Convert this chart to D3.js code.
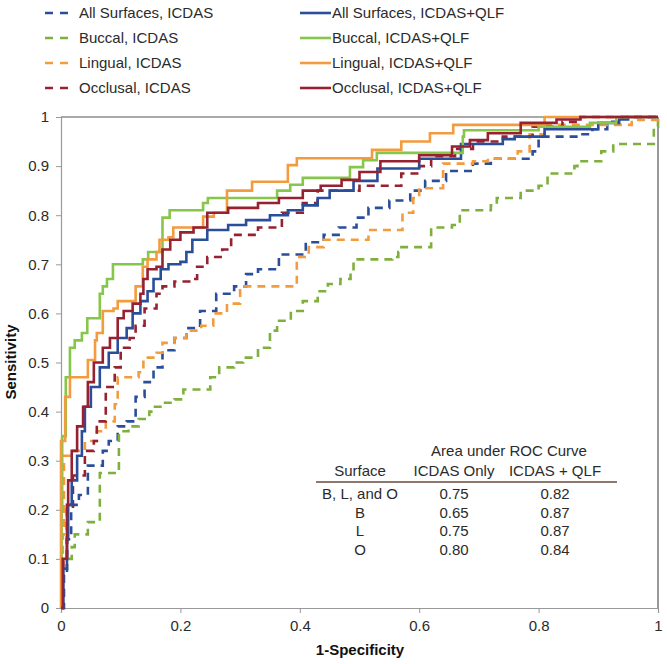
<!DOCTYPE html>
<html><head><meta charset="utf-8">
<script src="https://cdn.jsdelivr.net/npm/d3@7"></script>
<style>body{margin:0;background:#fff;}svg{display:block;font-family:"Liberation Sans",Arial,sans-serif;}</style>
</head><body>
<script>
// ---- data (step ROC points: [1-specificity, sensitivity]) ----
const allIcdasX = [0,0.005,0.01,0.017,0.03,0.045,0.07,0.08,0.095,0.11,0.125,0.14,0.155,0.17,0.19,0.21,0.233,0.26,0.29,0.31,0.33,0.365,0.41,0.44,0.465,0.495,0.515,0.55,0.585,0.61,0.645,0.69,0.72,0.79,0.80,0.87,0.89,0.915,0.94,1];
const allIcdasY = [0,0.07,0.14,0.21,0.23,0.29,0.32,0.34,0.37,0.38,0.43,0.46,0.49,0.525,0.55,0.57,0.605,0.64,0.655,0.68,0.69,0.72,0.745,0.76,0.775,0.795,0.815,0.83,0.85,0.87,0.89,0.905,0.915,0.93,0.96,0.965,0.975,0.99,1,1];

const allQlfX = [0,0.004,0.01,0.012,0.018,0.027,0.035,0.04,0.05,0.065,0.08,0.095,0.11,0.12,0.133,0.145,0.155,0.167,0.18,0.2,0.21,0.22,0.245,0.28,0.31,0.35,0.38,0.405,0.43,0.45,0.49,0.53,0.6,0.67,0.74,0.76,0.81,0.9,0.935,0.95,1];
const allQlfY = [0,0.08,0.14,0.21,0.26,0.31,0.36,0.41,0.45,0.49,0.52,0.55,0.57,0.60,0.625,0.645,0.67,0.69,0.70,0.705,0.725,0.75,0.77,0.78,0.79,0.80,0.81,0.82,0.835,0.85,0.87,0.895,0.915,0.945,0.955,0.96,0.975,0.988,0.995,1,1];

const buccalIcdasX = [0,0.003,0.01,0.018,0.023,0.045,0.065,0.097,0.113,0.13,0.148,0.155,0.17,0.19,0.205,0.25,0.265,0.29,0.305,0.33,0.35,0.362,0.385,0.405,0.43,0.447,0.468,0.485,0.49,0.555,0.565,0.567,0.62,0.655,0.668,0.72,0.73,0.77,0.80,0.815,0.86,0.865,0.905,0.925,0.993,1];
const buccalIcdasY = [0,0.08,0.10,0.124,0.15,0.175,0.275,0.36,0.37,0.385,0.40,0.41,0.418,0.425,0.445,0.47,0.49,0.50,0.51,0.53,0.565,0.585,0.605,0.625,0.645,0.66,0.67,0.69,0.71,0.715,0.725,0.735,0.775,0.78,0.81,0.82,0.835,0.85,0.86,0.885,0.90,0.91,0.93,0.945,0.98,1];

const buccalQlfX = [0,0.001,0.002,0.008,0.015,0.023,0.035,0.044,0.065,0.07,0.077,0.087,0.137,0.146,0.17,0.182,0.238,0.246,0.362,0.384,0.405,0.484,0.506,0.529,0.673,0.675,0.8,0.886,0.93,1];
const buccalQlfY = [0,0.2,0.35,0.47,0.53,0.545,0.56,0.59,0.64,0.655,0.67,0.70,0.71,0.725,0.795,0.81,0.825,0.835,0.85,0.862,0.876,0.898,0.912,0.927,0.96,0.973,0.98,0.988,1,1];

const lingualIcdasX = [0,0.003,0.005,0.02,0.04,0.06,0.075,0.09,0.095,0.13,0.138,0.16,0.17,0.19,0.21,0.235,0.255,0.278,0.3,0.395,0.415,0.44,0.515,0.572,0.59,0.6,0.64,0.69,0.715,0.765,0.785,0.81,0.956,1];
const lingualIcdasY = [0,0.15,0.31,0.32,0.34,0.36,0.38,0.415,0.47,0.48,0.51,0.52,0.54,0.55,0.565,0.575,0.60,0.62,0.655,0.715,0.735,0.75,0.77,0.805,0.835,0.855,0.905,0.91,0.915,0.93,0.965,0.984,0.994,1];

const lingualQlfX = [0,0,0.007,0.015,0.045,0.057,0.06,0.07,0.088,0.095,0.125,0.137,0.145,0.16,0.165,0.18,0.188,0.238,0.256,0.278,0.32,0.38,0.395,0.521,0.57,0.618,0.657,0.81,1];
const lingualQlfY = [0,0.34,0.43,0.47,0.505,0.545,0.56,0.605,0.61,0.625,0.655,0.695,0.71,0.725,0.75,0.755,0.775,0.797,0.805,0.85,0.868,0.902,0.916,0.933,0.95,0.967,0.984,1,1];

const occlusalIcdasX = [0,0.004,0.01,0.02,0.04,0.055,0.06,0.075,0.09,0.1,0.115,0.125,0.14,0.16,0.17,0.19,0.22,0.228,0.245,0.27,0.285,0.33,0.37,0.405,0.43,0.5,0.57,0.60,0.62,0.66,0.69,0.74,0.79,0.84,0.87,1];
const occlusalIcdasY = [0,0.1,0.2,0.27,0.32,0.34,0.38,0.45,0.49,0.53,0.55,0.575,0.61,0.64,0.655,0.665,0.67,0.695,0.715,0.73,0.76,0.775,0.805,0.825,0.85,0.86,0.885,0.9,0.92,0.935,0.95,0.96,0.98,0.99,1,1];

const occlusalQlfX = [0,0.003,0.01,0.012,0.018,0.027,0.037,0.045,0.055,0.07,0.082,0.095,0.105,0.12,0.133,0.138,0.145,0.16,0.17,0.183,0.2,0.222,0.245,0.28,0.33,0.365,0.405,0.435,0.47,0.5,0.535,0.6,0.655,0.685,0.715,0.77,0.83,0.87,1];
const occlusalQlfY = [0,0.1,0.21,0.26,0.32,0.37,0.41,0.46,0.5,0.53,0.55,0.59,0.605,0.62,0.64,0.67,0.69,0.695,0.73,0.75,0.765,0.775,0.805,0.815,0.825,0.835,0.85,0.86,0.872,0.888,0.91,0.922,0.94,0.953,0.967,0.988,0.995,1,1];

const seriesNames = ["All Surfaces, ICDAS","All Surfaces, ICDAS+QLF","Buccal, ICDAS","Buccal, ICDAS+QLF","Lingual, ICDAS","Lingual, ICDAS+QLF","Occlusal, ICDAS","Occlusal, ICDAS+QLF"];
const seriesX = [allIcdasX, allQlfX, buccalIcdasX, buccalQlfX, lingualIcdasX, lingualQlfX, occlusalIcdasX, occlusalQlfX];
const seriesY = [allIcdasY, allQlfY, buccalIcdasY, buccalQlfY, lingualIcdasY, lingualQlfY, occlusalIcdasY, occlusalQlfY];
const seriesColors = ["#2B4E9A","#2B4E9A","#7FB03E","#86C64A","#F39B3F","#F39B3F","#962131","#962131"];
const seriesDashed = [true,false,true,false,true,false,true,false];

const xTicks = [0,0.2,0.4,0.6,0.8,1];
const yTicks = [0,0.1,0.2,0.3,0.4,0.5,0.6,0.7,0.8,0.9,1];

const tableTitle = "Area under ROC Curve";
const tableHeader = ["Surface","ICDAS Only","ICDAS + QLF"];
const tableSurface = ["B, L, and O","B","L","O"];
const tableIcdas = ["0.75","0.65","0.75","0.80"];
const tableQlf = ["0.82","0.87","0.87","0.84"];

// ---- drawing ----
const W = 667, H = 664;
const svg = d3.select("body").append("svg").attr("width", W).attr("height", H);
const x = d3.scaleLinear().domain([0,1]).range([61,658]);
const y = d3.scaleLinear().domain([0,1]).range([608,117]);
const txt = "#2b2b2b";

svg.append("defs").append("clipPath").attr("id","clip")
  .append("rect").attr("x",58).attr("y",114).attr("width",603).attr("height",497);

// frame (top and right)
svg.append("line").attr("x1",x(0)).attr("x2",x(1)).attr("y1",y(1)).attr("y2",y(1)).attr("stroke","#555").attr("stroke-width",1.2);
svg.append("line").attr("x1",x(1)).attr("x2",x(1)).attr("y1",y(1)).attr("y2",y(0)).attr("stroke","#555").attr("stroke-width",1.2);

// axes
const yAxis = svg.append("g").attr("transform",`translate(${x(0)},0)`)
  .call(d3.axisLeft(y).tickValues(yTicks).tickSize(5).tickPadding(7).tickFormat(d => d3.format("")(+d.toFixed(1))));
const xAxis = svg.append("g").attr("transform",`translate(0,${y(0)})`)
  .call(d3.axisBottom(x).tickValues(xTicks).tickSize(5).tickPadding(7).tickFormat(d => d3.format("")(+d.toFixed(1))));
[xAxis,yAxis].forEach(a => {
  a.select(".domain").attr("stroke","#999").attr("stroke-width",1.2);
  a.selectAll(".tick line").attr("stroke","#999");
  a.selectAll(".tick text").attr("fill",txt).style("font-size","15px").style("font-family","'Liberation Sans',Arial,sans-serif");
});

svg.append("text").attr("x",360).attr("y",655).attr("text-anchor","middle")
  .style("font-size","15px").style("font-weight","bold").attr("fill","#111").text("1-Specificity");
svg.append("text").attr("transform","translate(16,362) rotate(-90)").attr("text-anchor","middle")
  .style("font-size","15px").style("font-weight","bold").attr("fill","#111").text("Sensitivity");

// curves
const line = d3.line().x(d => x(d[0])).y(d => y(d[1])).curve(d3.curveStepAfter);
const order = [0,2,4,6,1,3,5,7];
const plot = svg.append("g").attr("clip-path","url(#clip)");
order.forEach(i => {
  const pts = seriesX[i].map((v,k) => [v, seriesY[i][k]]);
  plot.append("path").datum(pts).attr("d", line).attr("fill","none")
    .attr("stroke", seriesColors[i]).attr("stroke-width", 2.6)
    .attr("stroke-dasharray", seriesDashed[i] ? "8,6" : null);
});

// legend
const legRows = [13,38,63,88];
seriesNames.forEach((name,i) => {
  const col = i % 2, row = Math.floor(i/2);
  const ly = legRows[row];
  const g = svg.append("g");
  if (seriesDashed[i]) {
    g.append("line").attr("x1",45).attr("x2",68).attr("y1",ly).attr("y2",ly)
      .attr("stroke",seriesColors[i]).attr("stroke-width",2.6).attr("stroke-dasharray","8,7");
    g.append("text").attr("x",79).attr("y",ly+5).style("font-size","15px").attr("fill",txt).text(name);
  } else {
    g.append("line").attr("x1",300).attr("x2",331).attr("y1",ly).attr("y2",ly)
      .attr("stroke",seriesColors[i]).attr("stroke-width",2.6);
    g.append("text").attr("x",332).attr("y",ly+5).style("font-size","15px").attr("fill",txt).text(name);
  }
});

// table
const tcol = [360, 454, 555];
const tg = svg.append("g").style("font-size","15px").attr("fill",txt);
tg.append("text").attr("x",509).attr("y",456).attr("text-anchor","middle").text(tableTitle);
tableHeader.forEach((h,i) => tg.append("text").attr("x",tcol[i]).attr("y",476).attr("text-anchor","middle").text(h));
svg.append("line").attr("x1",316).attr("x2",617).attr("y1",482).attr("y2",482).attr("stroke","#6b4a3a").attr("stroke-width",1.3);
const rowY = [499,518,536,555];
tableSurface.forEach((s,i) => {
  tg.append("text").attr("x",tcol[0]).attr("y",rowY[i]).attr("text-anchor","middle").text(s);
  tg.append("text").attr("x",tcol[1]).attr("y",rowY[i]).attr("text-anchor","middle").text(tableIcdas[i]);
  tg.append("text").attr("x",tcol[2]).attr("y",rowY[i]).attr("text-anchor","middle").text(tableQlf[i]);
});
</script>
</body></html>
